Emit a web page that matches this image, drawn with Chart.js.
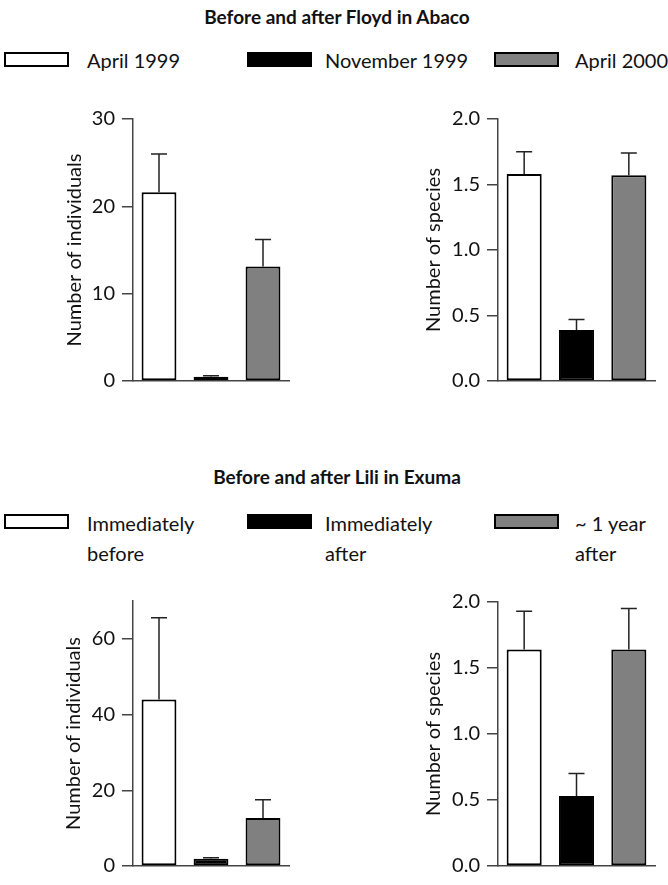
<!DOCTYPE html>
<html>
<head>
<meta charset="utf-8">
<script src="https://cdn.jsdelivr.net/npm/chart.js@4/dist/chart.umd.min.js"></script>
<style>
  body { margin: 0; background: #fff; }
  #page { position: relative; width: 668px; height: 885px; font-family: Lato, "Open Sans", sans-serif; color: #111; }
  #page canvas { position: absolute; }
  .title { position: absolute; left: 0; width: 674px; text-align: center; font-weight: bold; font-size: 19px; line-height: 24px; }
  .box { position: absolute; width: 61px; height: 11px; border: 2px solid #000; }
  .label { position: absolute; font-size: 20px; line-height: 30px; white-space: nowrap; }
</style>
</head>
<body>
<div id="page">
  <div class="title" style="top:5px">Before and after Floyd in Abaco</div>
  <div class="title" style="top:465px">Before and after Lili in Exuma</div>
  <div id="legendTop"></div>
  <div id="legendBottom"></div>
  <canvas id="abacoInd" width="320" height="300" style="left:0;top:100px"></canvas>
  <canvas id="abacoSpp" width="334" height="300" style="left:334px;top:100px"></canvas>
  <canvas id="exumaInd" width="320" height="315" style="left:0;top:570px"></canvas>
  <canvas id="exumaSpp" width="334" height="315" style="left:334px;top:570px"></canvas>
</div>
<script>
const abacoLabels = ['April 1999', 'November 1999', 'April 2000'];
const exumaLabels = ['Immediately\nbefore', 'Immediately\nafter', '~ 1 year\nafter'];
const barColors = ['#ffffff', '#000000', '#808080'];

const abacoIndividuals = [21.6, 0.5, 13.1];
const abacoIndividualsErr = [4.4, 0.1, 3.1];
const abacoSpecies = [1.58, 0.39, 1.57];
const abacoSpeciesErr = [0.17, 0.08, 0.17];

const exumaIndividuals = [44, 1.9, 12.7];
const exumaIndividualsErr = [21.6, 0.3, 4.8];
const exumaSpecies = [1.64, 0.53, 1.64];
const exumaSpeciesErr = [0.29, 0.17, 0.31];

const individualTicks = [0, 10, 20, 30];
const exumaIndividualTicks = [0, 20, 40, 60];
const speciesTicks = [0, 0.5, 1, 1.5, 2];

// legends (html)
const legendX = [[4, 87], [247, 325], [494, 575]];
function makeLegend(id, labels, boxTop, textTop) {
  const el = document.getElementById(id);
  labels.forEach((lab, i) => {
    const b = document.createElement('div');
    b.className = 'box';
    b.style.left = legendX[i][0] + 'px';
    b.style.top = boxTop + 'px';
    b.style.background = barColors[i];
    el.appendChild(b);
    const t = document.createElement('div');
    t.className = 'label';
    t.style.left = legendX[i][1] + 'px';
    t.style.top = textTop + 'px';
    t.innerHTML = lab.replace('\n', '<br>');
    el.appendChild(t);
  });
}
makeLegend('legendTop', abacoLabels, 52, 45);
makeLegend('legendBottom', exumaLabels, 514, 508);

const errorBars = {
  id: 'errorBars',
  afterDatasetsDraw(chart, args, opts) {
    const ctx = chart.ctx;
    const y = chart.scales.y;
    const vals = chart.data.datasets[0].data;
    ctx.save();
    ctx.strokeStyle = '#222';
    ctx.lineWidth = 1.5;
    chart.getDatasetMeta(0).data.forEach((bar, i) => {
      const top = y.getPixelForValue(vals[i] + opts.errors[i]);
      ctx.beginPath();
      ctx.moveTo(bar.x, bar.y);
      ctx.lineTo(bar.x, top);
      ctx.moveTo(bar.x - 8, top);
      ctx.lineTo(bar.x + 8, top);
      ctx.stroke();
    });
    ctx.restore();
  }
};

function makeChart(id, labels, values, errors, axis) {
  return new Chart(document.getElementById(id), {
    type: 'bar',
    data: {
      labels: labels,
      datasets: [{
        data: values,
        backgroundColor: barColors,
        borderColor: '#000',
        borderWidth: 2,
        borderSkipped: false,
        categoryPercentage: 1,
        barPercentage: 0.67,
      }],
    },
    plugins: [errorBars],
    options: {
      responsive: false,
      animation: false,
      devicePixelRatio: 1,
      layout: { padding: axis.padding },
      plugins: {
        legend: { display: false },
        tooltip: { enabled: false },
        errorBars: { errors: errors },
      },
      scales: {
        x: {
          grid: { display: false },
          ticks: { display: false },
          border: { display: true, color: '#444', width: 1.5 },
          afterFit: s => { s.height = 0; },
        },
        y: {
          min: 0,
          max: axis.max,
          afterBuildTicks: s => { s.ticks = axis.ticks.map(v => ({ value: v })); },
          grid: { display: true, drawOnChartArea: false, drawTicks: true, tickLength: 11, color: '#444', lineWidth: 1.5 },
          border: { display: true, color: '#444', width: 1.5 },
          ticks: {
            padding: 7,
            color: '#111',
            font: { family: 'Lato', size: 20 },
            callback: v => axis.decimals ? v.toFixed(1) : String(v),
          },
          title: {
            display: true,
            text: axis.title,
            color: '#111',
            font: { family: 'Lato', size: 20 },
            padding: { top: axis.titlePad, bottom: 0 },
          },
          afterFit: s => { s.width = axis.width; },
        },
      },
    },
  });
}

makeChart('abacoInd', abacoLabels, abacoIndividuals, abacoIndividualsErr, {
  max: 30, ticks: individualTicks, decimals: false, title: 'Number of individuals',
  width: 133, titlePad: 63, padding: { left: 0, right: 31, top: 16, bottom: 11 },
});
makeChart('abacoSpp', abacoLabels, abacoSpecies, abacoSpeciesErr, {
  max: 2, ticks: speciesTicks, decimals: true, title: 'Number of species',
  width: 164, titlePad: 88, padding: { left: 0, right: 13, top: 18, bottom: 11 },
});
makeChart('exumaInd', exumaLabels, exumaIndividuals, exumaIndividualsErr, {
  max: 70, ticks: exumaIndividualTicks, decimals: false, title: 'Number of individuals',
  width: 133, titlePad: 62, padding: { left: 0, right: 31, top: 31, bottom: 13 },
});
makeChart('exumaSpp', exumaLabels, exumaSpecies, exumaSpeciesErr, {
  max: 2, ticks: speciesTicks, decimals: true, title: 'Number of species',
  width: 164, titlePad: 88, padding: { left: 0, right: 13, top: 32, bottom: 13 },
});
</script>
</body>
</html>
